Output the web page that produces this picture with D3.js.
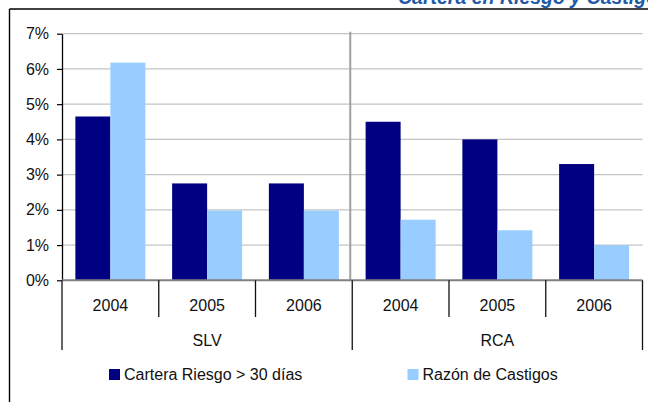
<!DOCTYPE html>
<html>
<head>
<meta charset="utf-8">
<script src="https://cdn.jsdelivr.net/npm/d3@7"></script>
<style>
  html, body { margin: 0; padding: 0; background: #fff; }
  svg { display: block; font-family: "Liberation Sans", Arial, sans-serif; }
</style>
</head>
<body>
<svg id="chart" width="648" height="402"></svg>
<script>
// ---- data ----
const groups = ["SLV", "RCA"];
const years = ["2004", "2005", "2006"];
const seriesNames = ["Cartera Riesgo > 30 días", "Razón de Castigos"];
const carteraRiesgo = [4.65, 2.75, 2.75, 4.5, 4.0, 3.3];
const razonCastigos = [6.18, 1.98, 1.98, 1.72, 1.42, 1.0];
const yTickValues = [0, 1, 2, 3, 4, 5, 6, 7];
const titleText = "Cartera en Riesgo y Castigos";

(function () {
// ---- layout ----
const svg = d3.select("#chart");
const pLeft = 62, pRight = 642.5, pTop = 33.7, pBottom = 280.3;
const colors = ["#000080", "#99CCFF"];

const keys = [];
groups.forEach(g => years.forEach(y => keys.push(g + "|" + y)));
const rows = keys.map((k, i) => ({ key: k, group: k.split("|")[0], year: k.split("|")[1], values: [carteraRiesgo[i], razonCastigos[i]] }));

const x = d3.scaleBand().domain(keys).range([pLeft, pRight]).padding(0);
const xSub = d3.scaleBand().domain([0, 1]).range([0, x.bandwidth()]).paddingInner(0).paddingOuter(0.382);
const y = d3.scaleLinear().domain([0, 7]).range([pBottom, pTop]);

// frame lines (border of the slide box)
svg.append("line").attr("x1", 9.5).attr("x2", 648).attr("y1", 9).attr("y2", 9)
  .attr("stroke", "#000").attr("stroke-width", 1.6);
svg.append("line").attr("x1", 9.5).attr("x2", 9.5).attr("y1", 9).attr("y2", 402)
  .attr("stroke", "#000").attr("stroke-width", 1.4);

// title (mostly cropped at the top, as in the reference)
svg.append("text").attr("x", 398).attr("y", 3.5)
  .attr("font-size", 19.5).attr("font-weight", "bold").attr("font-style", "italic")
  .attr("fill", "#1F5AA6").text(titleText);

// gridlines
svg.append("g").selectAll("line").data(yTickValues.filter(v => v > 0)).join("line")
  .attr("x1", pLeft).attr("x2", pRight)
  .attr("y1", d => y(d)).attr("y2", d => y(d))
  .attr("stroke", "#c4c4c4").attr("stroke-width", 1.3);

// group separator inside plot
const groupStarts = groups.map(g => x(g + "|" + years[0]));
svg.append("g").selectAll("line").data(groupStarts.slice(1)).join("line")
  .attr("x1", d => d - 2).attr("x2", d => d - 2)
  .attr("y1", pTop - 2).attr("y2", pBottom)
  .attr("stroke", "#a0a0a0").attr("stroke-width", 2);

// bars
const barG = svg.append("g").selectAll("g").data(rows).join("g")
  .attr("transform", d => `translate(${x(d.key)},0)`);
barG.selectAll("rect").data(d => d.values.map((v, i) => ({ v, i }))).join("rect")
  .attr("x", d => xSub(d.i)).attr("width", xSub.bandwidth())
  .attr("y", d => y(d.v)).attr("height", d => pBottom - y(d.v))
  .attr("fill", d => colors[d.i]);

// y axis
const yAxis = d3.axisLeft(y).tickValues(yTickValues).tickSize(5).tickSizeOuter(0)
  .tickFormat(d => d + "%").tickPadding(8);
const yg = svg.append("g").attr("transform", `translate(${pLeft},0)`).call(yAxis);
yg.select(".domain").attr("stroke", "#000").attr("stroke-width", 1.3);
yg.selectAll(".tick line").attr("stroke", "#000").attr("stroke-width", 1.2);
yg.selectAll(".tick text").attr("font-size", 16).attr("fill", "#111")
  .attr("font-family", "'Liberation Sans', Arial, sans-serif");

// x axis line
svg.append("line").attr("x1", pLeft).attr("x2", pRight).attr("y1", pBottom).attr("y2", pBottom)
  .attr("stroke", "#808080").attr("stroke-width", 2);

// category tick marks
const boundaries = keys.map(k => x(k)).concat([pRight]);
svg.append("g").selectAll("line").data(boundaries).join("line")
  .attr("x1", d => d).attr("x2", d => d)
  .attr("y1", pBottom)
  .attr("y2", (d, i) => (i % years.length === 0) ? 350 : 317)
  .attr("stroke", "#111").attr("stroke-width", 1.3);

// category labels
svg.append("g").selectAll("text").data(rows).join("text")
  .attr("x", d => x(d.key) + x.bandwidth() / 2).attr("y", 310.8)
  .attr("text-anchor", "middle").attr("font-size", 16).attr("fill", "#111")
  .text(d => d.year);

// group labels
svg.append("g").selectAll("text").data(groups).join("text")
  .attr("x", g => x(g + "|" + years[0]) + x.bandwidth() * years.length / 2).attr("y", 346)
  .attr("text-anchor", "middle").attr("font-size", 16).attr("fill", "#111")
  .text(g => g);

// legend
const legendX = [109, 407.5];
const lg = svg.append("g").selectAll("g").data(seriesNames).join("g")
  .attr("transform", (d, i) => `translate(${legendX[i]},369)`);
lg.append("rect").attr("width", 11).attr("height", 11).attr("fill", (d, i) => colors[i]);
lg.append("text").attr("x", 15).attr("y", 10.8).attr("font-size", 16).attr("fill", "#111").text(d => d);
})();
</script>
</body>
</html>
